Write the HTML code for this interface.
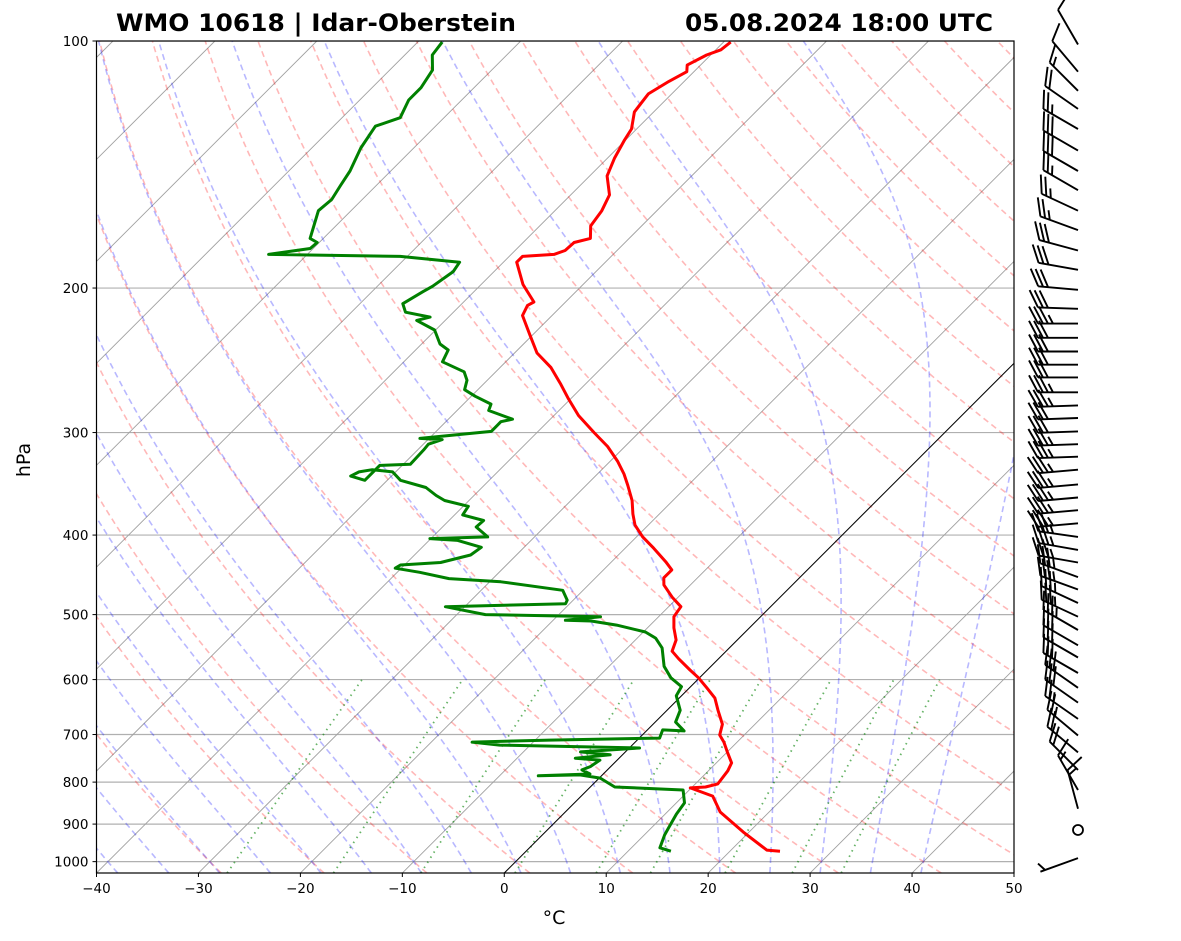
<!DOCTYPE html>
<html><head><meta charset="utf-8"><style>
html,body{margin:0;padding:0;background:#fff;}
svg{display:block;font-family:"DejaVu Sans","Liberation Sans",sans-serif;}
</style></head><body>
<svg id="chart" width="1181" height="941" viewBox="0 0 1181 941">
<defs><clipPath id="plotclip"><rect x="96.5" y="41" width="917.5" height="832"/></clipPath></defs>
<text x="116" y="31" font-size="24" font-weight="bold" textLength="400" lengthAdjust="spacingAndGlyphs">WMO 10618 | Idar-Oberstein</text>
<text x="685" y="31" font-size="24" font-weight="bold" textLength="308" lengthAdjust="spacingAndGlyphs">05.08.2024 18:00 UTC</text>
<g id="bg" clip-path="url(#plotclip)"></g>
<g id="prof" clip-path="url(#plotclip)"></g>
<g id="axes"></g>
<g id="barbs"></g>
<text x="554" y="924" font-size="19" text-anchor="middle">°C</text>
<text x="30" y="460" font-size="19" text-anchor="middle" transform="rotate(-90 30 460)">hPa</text>
</svg>
<script>
// ---- data ----
const tempP = [971,968,920,870,832,813,811,804,775,758,735,715,701,680,654,632,614,597,584,566,554,537,519,503,489,476,460,451,441,431,415,402,389,377,363,348,337,325,312,300,286,273,262,250,240,228,216,210,208,198,186,183,182,180,176,174,168,161,154,146,139,132,128,122,116,112,109,107,104,102.5,100.3];
const tempT = [24.9,23.5,19.4,15.2,12.9,9.9,11.3,12.2,11.9,11.5,10.0,8.7,7.6,6.8,5.0,3.5,1.7,-0.1,-1.7,-3.9,-5.3,-6.0,-7.4,-8.5,-8.8,-10.6,-12.6,-13.3,-13.3,-14.7,-17.2,-19.4,-21.3,-22.6,-24.0,-25.9,-27.4,-29.3,-31.7,-34.4,-37.6,-40.2,-42.4,-45.0,-47.8,-50.3,-52.9,-53.4,-53.1,-55.9,-58.7,-58.7,-55.8,-55.1,-55.0,-53.8,-55.0,-55.4,-56.2,-58.3,-59.3,-60.1,-60.5,-61.9,-62.3,-61.5,-60.7,-61.3,-60.4,-59.5,-59.3];
const dewP = [971,962,928,910,875,848,818,811,791,784,786,782,773,766,752,748,741,735,727,721,715,711,707,691,693,676,654,628,612,597,578,549,534,525,515,509,508,503,500,489,485,480,467,456,452,444,439,435,432,423,414,406,404,402,391,384,378,369,363,358,350,343,335,333,335,339,343,329,328,315,310,306,305,299,291,289,282,277,271,266,259,253,246,238,234,225,219,217,214,209,202,199,191,186,183,182,179,176,174,161,156,150,144,135,127,124,118,114,108.5,104,100.3];
const dewT = [14.2,12.8,12.0,11.7,11.1,10.8,9.4,2.4,0.1,-2.2,-6.2,-1.3,-2.5,-2.0,-1.7,-4.3,-1.2,-4.4,1.0,-13.0,-16.0,-8.6,2.0,1.5,3.7,2.0,1.3,-0.5,-0.9,-2.8,-4.6,-6.6,-8.2,-9.8,-13.3,-16.2,-18.8,-15.7,-27.2,-31.9,-20.4,-20.6,-22.0,-28.9,-34.3,-37.8,-40.6,-40.4,-36.7,-34.5,-34.2,-37.2,-40.1,-34.6,-36.7,-36.6,-39.2,-39.5,-42.4,-43.7,-45.5,-48.7,-50.3,-52.5,-53.6,-54.0,-52.2,-52.2,-49.3,-49.4,-49.5,-48.6,-50.9,-44.6,-44.6,-43.7,-46.9,-47.3,-49.6,-51.3,-52.0,-53.1,-56.2,-56.8,-58.2,-60.1,-62.8,-61.8,-64.7,-65.8,-65.0,-64.6,-64.0,-64.3,-70.7,-83.8,-80.3,-80.2,-81.3,-83.2,-83.0,-83.5,-84.0,-85.2,-85.9,-84.3,-85.2,-85.2,-85.8,-87.3,-87.6];
const barbP = [990,915,862,818,773,736,702,670,640,614,589,564,545,522,503,484,466,450,432,417,402,387,373,360,347,333,321,310,299,288,278,268,257,248,239,230,221,212,201,190,180,170,161,152,144,136,128,121,115,109,101];
const barbDir = [250,0,345,330,315,310,310,305,305,305,300,300,300,300,295,295,290,290,280,280,278,265,265,265,265,265,268,268,268,268,268,270,270,270,270,270,270,272,275,280,285,290,295,300,300,300,300,305,315,320,330];
const barbSpd = [5,0,15,15,20,20,25,25,30,30,30,30,30,35,35,35,35,35,35,35,35,35,35,35,35,35,35,35,30,30,35,35,30,30,30,30,35,30,30,30,30,25,25,25,30,30,25,20,15,10,10];
const pTicks = [100,200,300,400,500,600,700,800,900,1000];
const tTicks = [-40,-30,-20,-10,0,10,20,30,40,50];
const dryT0 = [-30,-20,-10,0,10,20,30,40,50,60,70,80,90,100,110,120,130,140,150,160,170,180,190];
const moistT0 = [-50,-45,-40,-35,-30,-25,-20,-15,-10,-5,0,5,10,15,20,25,30,35,40];
const mixW = [0.0004,0.001,0.002,0.004,0.007,0.01,0.016,0.024,0.032];

// ---- scales ----
const L=96.5,R=1014,TOP=41,BOT=873,PBOT=1032.5;
const PXDEG=(R-L)/90;
function yP(p){return TOP+356.4*Math.log(p/100);}
function xT(t,p){return L+(t+40)*PXDEG+(BOT-yP(p));}
const NS='http://www.w3.org/2000/svg';
function mk(tag,attrs,parent){const e=document.createElementNS(NS,tag);for(const k in attrs)e.setAttribute(k,attrs[k]);parent.appendChild(e);return e;}
function pathFrom(ps,ts){let d='';for(let i=0;i<ps.length;i++){d+=(i?'L':'M')+xT(ts[i],ps[i]).toFixed(1)+','+yP(ps[i]).toFixed(1);}return d;}
const bg=document.getElementById('bg'),prof=document.getElementById('prof'),ax=document.getElementById('axes'),bb=document.getElementById('barbs');

const pGrid=[];for(let p=PBOT;p>=100;p-=5)pGrid.push(p);pGrid.push(100);

pTicks.forEach(p=>{
  const l=mk('line',{x1:L,x2:R,y1:yP(p),y2:yP(p),stroke:'#b0b0b0','stroke-width':1.2},bg);
  
  
});
for(let t=-150;t<=50;t+=10){
  const l=mk('line',{x1:xT(t,PBOT),y1:yP(PBOT),x2:xT(t,100),y2:yP(100),stroke:'#a0a0a0','stroke-width':0.9},bg);
  
  
}
dryT0.forEach(t0=>{
  const th=t0+273.15;const ts=pGrid.map(p=>th*Math.pow(p/1000,0.2857)-273.15);
  const e=mk('path',{d:pathFrom(pGrid,ts),fill:'none',stroke:'rgba(255,0,0,0.28)','stroke-width':1.6,'stroke-dasharray':'6,4'},bg);
  
  
});
function dTdp(p,T){const tc=T-273.15;const es=6.112*Math.exp(17.67*tc/(tc+243.5));const rs=0.622*es/(p-es);
  const num=287.04*T+2.501e6*rs;const den=1005.7+2.501e6*2.501e6*rs*0.622/(287.04*T*T);return num/den/p;}
function moistProfile(t0,parr){
  const T=t0+273.15;const res=[];
  parr.forEach(pp=>{
    if(pp>=1000){let Tx=T;let q=1000;while(q<pp-1e-6){const dp=Math.min(1,pp-q);const k1=dTdp(q,Tx);const k2=dTdp(q+dp,Tx+k1*dp);Tx+=0.5*(k1+k2)*dp;q+=dp;}res.push(Tx-273.15);}
    else res.push(null);
  });
  let Tu=T,q=1000;
  parr.forEach((pp,i)=>{if(pp<1000){while(q>pp+1e-6){const dp=-Math.min(1,q-pp);const k1=dTdp(q,Tu);const k2=dTdp(q+dp,Tu+k1*dp);Tu+=0.5*(k1+k2)*dp;q+=dp;}res[i]=Tu-273.15;}});
  return res;
}
moistT0.forEach(t0=>{
  const ts=moistProfile(t0,pGrid);
  const e=mk('path',{d:pathFrom(pGrid,ts),fill:'none',stroke:'rgba(0,0,255,0.28)','stroke-width':1.6,'stroke-dasharray':'6,4'},bg);
  
  
});
const mixP=[];for(let p=PBOT;p>=600;p-=10)mixP.push(p);mixP.push(600);
mixW.forEach(w=>{
  const ts=mixP.map(p=>{const e=w*p/(0.622+w);const l=Math.log(e/6.112);return 243.5*l/(17.67-l);});
  const e=mk('path',{d:pathFrom(mixP,ts),fill:'none',stroke:'rgba(0,128,0,0.6)','stroke-width':1.8,'stroke-dasharray':'1.5,4.5'},bg);
  
  
});
const z=mk('line',{x1:xT(0,PBOT),y1:yP(PBOT),x2:xT(0,100),y2:yP(100),stroke:'#000','stroke-width':1},bg);



const tp=mk('path',{d:pathFrom(tempP,tempT),fill:'none',stroke:'#ff0000','stroke-width':3,'stroke-linejoin':'round'},prof);


const dp=mk('path',{d:pathFrom(dewP,dewT),fill:'none',stroke:'#008000','stroke-width':3,'stroke-linejoin':'round'},prof);



const fr=mk('rect',{x:L,y:TOP,width:R-L,height:BOT-TOP,fill:'none',stroke:'#000','stroke-width':1.2},ax);


pTicks.forEach(p=>{
  const y=yP(p);
  mk('line',{x1:L-4,x2:L,y1:y,y2:y,stroke:'#000','stroke-width':1},ax);
  const t=mk('text',{x:L-8,y:y+5,'font-size':13.5,'text-anchor':'end'},ax);t.textContent=p;
  
  
});
tTicks.forEach(v=>{
  const x=L+(v+40)*PXDEG;
  mk('line',{x1:x,x2:x,y1:BOT,y2:BOT+4,stroke:'#000','stroke-width':1},ax);
  const t=mk('text',{x:x,y:BOT+20,'font-size':13.5,'text-anchor':'middle'},ax);t.textContent=(v<0?'\u2212'+(-v):v);
  
  
});

const BX=1078,SL=40;
barbP.forEach((p,i)=>{
  const y=yP(p);const g=mk('g',{},bb);
  
  
  const spd=barbSpd[i];
  if(spd<2.5){mk('circle',{cx:BX,cy:y,r:5,fill:'none',stroke:'#000','stroke-width':1.8},g);return;}
  const d=barbDir[i]*Math.PI/180;const sx=Math.sin(d),sy=-Math.cos(d);
  const ex=BX+sx*SL,ey=y+sy*SL;
  let dd='M'+BX+','+y.toFixed(1)+'L'+ex.toFixed(1)+','+ey.toFixed(1);
  const px=-sy,py=sx;
  let n10=Math.floor(spd/10),n5=Math.round((spd-n10*10)/5);
  let pos=0;
  for(let k=0;k<n10;k++){const bx=ex-sx*pos,by=ey-sy*pos;dd+='M'+bx.toFixed(1)+','+by.toFixed(1)+'L'+(bx+px*17+sx*9).toFixed(1)+','+(by+py*17+sy*9).toFixed(1);pos+=5;}
  if(n5){if(pos===0)pos=5;const bx=ex-sx*pos,by=ey-sy*pos;dd+='M'+bx.toFixed(1)+','+by.toFixed(1)+'L'+(bx+px*8.5+sx*4.5).toFixed(1)+','+(by+py*8.5+sy*4.5).toFixed(1);}
  mk('path',{d:dd,fill:'none',stroke:'#000','stroke-width':1.9},g);
});
</script>
</body></html>
